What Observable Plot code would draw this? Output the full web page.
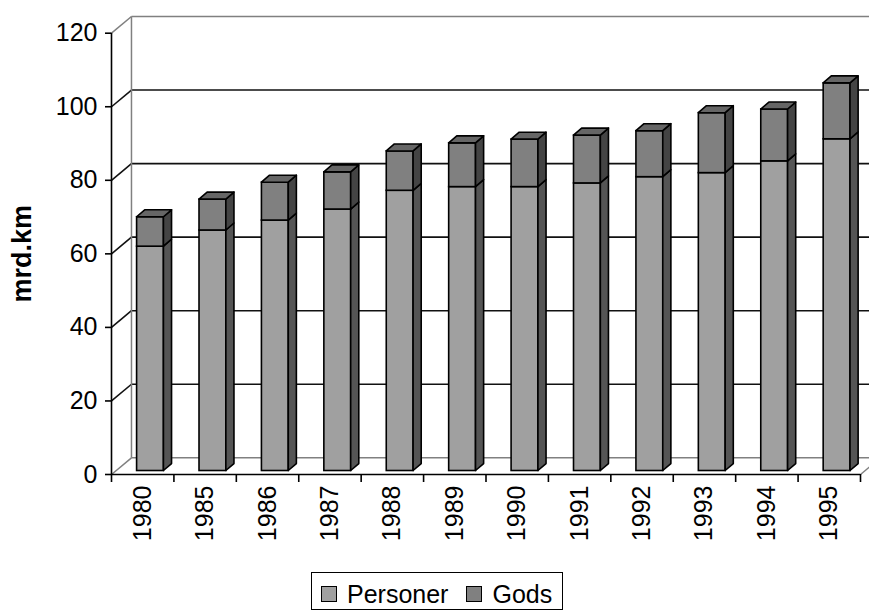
<!DOCTYPE html>
<html><head><meta charset="utf-8">
<script src="https://cdn.jsdelivr.net/npm/d3@7"></script>
<script src="https://cdn.jsdelivr.net/npm/@observablehq/plot@0.6"></script>
<style>
body{margin:0;background:#fff;font-family:"Liberation Sans",Arial,sans-serif;}
#chart{position:relative;width:869px;height:610px;overflow:hidden;background:#fff;}
#legend{position:absolute;left:311px;top:572px;border:1.5px solid #000;padding:8px 10px 2px 9px;display:flex;align-items:center;font-size:25px;line-height:26px;color:#000;background:#fff;white-space:nowrap;}
.sw{box-sizing:border-box;width:16px;height:16px;border:1.5px solid #000;display:inline-block;margin-right:10px;}
.item{display:flex;align-items:center;margin-right:18px;}
.item:last-child{margin-right:0;}
</style></head><body>
<div id="chart"></div>
<script>
// ---- data ----
const years = ["1980","1985","1986","1987","1988","1989","1990","1991","1992","1993","1994","1995"];
const personer = [61.0, 65.4, 68.1, 71.1, 76.2, 77.2, 77.2, 78.2, 79.9, 81.0, 84.2, 90.2];
const gods     = [ 8.0,  8.4, 10.3, 10.1, 10.7, 11.9, 12.9, 13.0, 12.5, 16.3, 14.1, 15.2];
const yTicks = [0, 20, 40, 60, 80, 100, 120];
const seriesNames = ["Personer", "Gods"];
const yLabel = "mrd.km";

// ---- styling / projection constants ----
const colors = {
  Personer: {front: "#a0a0a0", side: "#555555", top: "#777777"},
  Gods:     {front: "#808080", side: "#444444", top: "#666666"}
};
const WDX = 0.32, WDY = 4.54;   // wall depth (x-units, y-units)
const BX0 = 0.41, BX1 = 0.84;   // bar front face inside its band
const BDX = 0.13, BDY = 1.9;    // bar depth
const BASE = 0.95;              // bar floor offset (depth)
const N = years.length;
const gray = "#808080", dark = "#111";

const segs = [];
years.forEach((year, i) => {
  segs.push({series: "Personer", i, b: BASE, t: BASE + personer[i]});
  segs.push({series: "Gods", i, b: BASE + personer[i], t: BASE + personer[i] + gods[i]});
});
const sidePts = (name) => segs.filter(s => s.series === name).flatMap((s, k) => [
  {k, x: s.i + BX1, y1: s.b, y2: s.t},
  {k, x: s.i + BX1 + BDX, y1: s.b + BDY, y2: s.t + BDY}
]);
const topPts = segs.filter(s => s.series === "Gods").flatMap((s, k) => [
  {k, y: s.t, x1: s.i + BX0, x2: s.i + BX1},
  {k, y: s.t + BDY, x1: s.i + BX0 + BDX, x2: s.i + BX1 + BDX}
]);
const inner = yTicks.filter(v => v > 0 && v < yTicks[yTicks.length - 1]);
const yMax = yTicks[yTicks.length - 1];

const plot = Plot.plot({
  width: 869,
  height: 570,
  marginLeft: 111,
  marginRight: 9,
  marginTop: 32.7,
  marginBottom: 96,
  style: {fontFamily: "'Liberation Sans', Arial, sans-serif", color: "#000", background: "#fff", overflow: "hidden"},
  x: {domain: [0, N], axis: null},
  y: {domain: [0, yMax], axis: null},
  marks: [
    // back wall grid
    Plot.link(inner, {x1: WDX, x2: N + WDX + 1, y1: v => v + WDY, y2: v => v + WDY, stroke: dark, strokeWidth: 1.6}),
    // side wall grid
    Plot.link(inner, {x1: 0, y1: v => v, x2: WDX, y2: v => v + WDY, stroke: dark, strokeWidth: 1.6}),
    // wall & floor edges (gray)
    Plot.link([0, yMax], {x1: 0, y1: v => v, x2: WDX, y2: v => v + WDY, stroke: gray, strokeWidth: 1.5}),
    Plot.link([0, yMax], {x1: WDX, x2: N + WDX + 1, y1: v => v + WDY, y2: v => v + WDY, stroke: gray, strokeWidth: 1.5}),
    Plot.link([WDX], {x1: d => d, x2: d => d, y1: WDY, y2: yMax + WDY, stroke: gray, strokeWidth: 1.5}),
    Plot.link([N], {x1: d => d, x2: d => d + WDX, y1: 0, y2: WDY, stroke: gray, strokeWidth: 1.5}),
    // bars
    ...seriesNames.flatMap(name => [
      Plot.rect(segs.filter(s => s.series === name), {x1: s => s.i + BX0, x2: s => s.i + BX1, y1: "b", y2: "t", fill: colors[name].front, stroke: "#000", strokeWidth: 1.6}),
      Plot.areaY(sidePts(name), {x: "x", y1: "y1", y2: "y2", z: "k", fill: colors[name].side, stroke: "#000", strokeWidth: 1.6, curve: "linear"})
    ]),
    Plot.areaX(topPts, {y: "y", x1: "x1", x2: "x2", z: "k", fill: colors.Gods.top, stroke: "#000", strokeWidth: 1.6, curve: "linear"}),
    // front axes
    Plot.ruleX([0], {y1: 0, y2: yMax, stroke: "#000", strokeWidth: 1.6}),
    Plot.ruleY([0], {x1: 0, x2: N, stroke: "#000", strokeWidth: 1.6}),
    Plot.axisY({ticks: yTicks, tickSize: 6, tickPadding: 8, fontSize: 25, label: null, strokeWidth: 1.6}),
    Plot.axisX({ticks: d3.range(N + 1), tickSize: 8, tickFormat: () => "", label: null, strokeWidth: 1.6}),
    Plot.text(years, {x: (d, i) => i + 0.5, y: 0, text: d => d, rotate: -90, textAnchor: "end", dy: 11, fontSize: 25, fill: "#000"}),
    Plot.text([yLabel], {x: 0, y: yMax / 2, text: d => d, rotate: -90, dx: -89, fontSize: 27, fontWeight: "bold", fill: "#000"})
  ]
});
const chart = document.getElementById("chart");
chart.appendChild(plot);
const legend = document.createElement("div");
legend.id = "legend";
seriesNames.forEach(name => {
  const it = document.createElement("span");
  it.className = "item";
  const sw = document.createElement("span");
  sw.className = "sw";
  sw.style.background = colors[name].front;
  it.appendChild(sw);
  it.appendChild(document.createTextNode(name));
  legend.appendChild(it);
});
chart.appendChild(legend);
</script>
</body></html>
